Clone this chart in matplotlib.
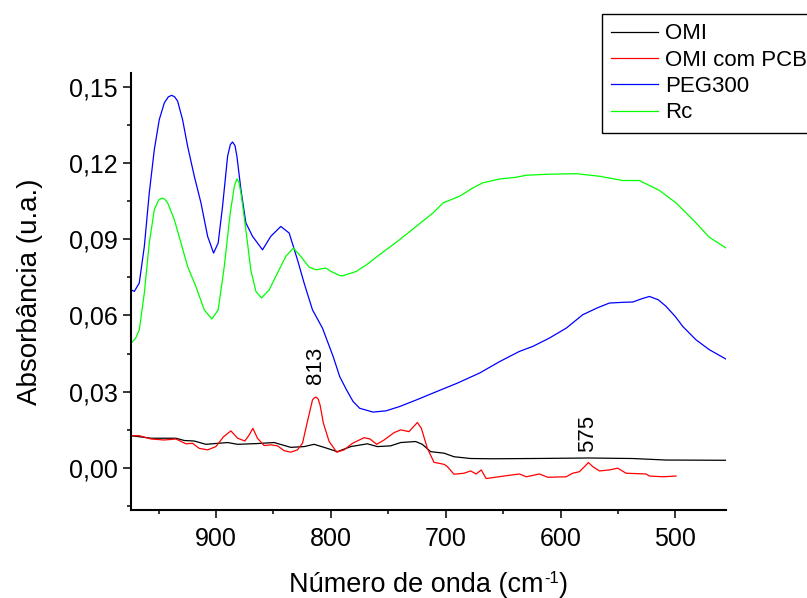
import matplotlib
matplotlib.use("Agg")
import matplotlib.pyplot as plt
from matplotlib.ticker import MultipleLocator, FuncFormatter

plt.rcParams['font.family'] = ['Liberation Sans', 'DejaVu Sans']

# ---- data ----
peg_x = [974, 971.1, 966.8, 962.4, 958.1, 953.7, 949.4, 945, 941.5, 938.6, 936, 933.4, 929.1, 924.7, 918.9,
         913.1, 907.3, 902.1, 898.1, 894.3, 889.9, 887.5, 885.6, 883.5, 881.8, 878.3, 874, 868.2, 859.5,
         852.3, 843.6, 836.3, 829.1, 823.3, 816, 807.3, 798, 792.3, 786.4, 780.7, 774.9, 763.3,
         752, 740.1, 725, 711.1, 690, 670.5, 653.1, 636, 624.2, 609.7, 595.1, 580.7, 568,
         557.5, 545, 537.2, 530, 522.7, 515, 508.2, 500, 493.7, 482.1, 470.5, 456]
peg_y = [0.0701, 0.0695, 0.0728, 0.0872, 0.1083, 0.1254, 0.1372, 0.1438, 0.1462, 0.1468, 0.1462, 0.1445, 0.1372,
         0.1267, 0.1149, 0.1044, 0.0912, 0.0846, 0.0886, 0.1030, 0.1228, 0.1274, 0.1284, 0.1270, 0.1228, 0.1096,
         0.0965, 0.0912, 0.0859, 0.0912, 0.0951, 0.0925, 0.0820, 0.0728, 0.0622, 0.0550, 0.0438,
         0.0359, 0.0307, 0.0261, 0.0234, 0.0219, 0.0224, 0.0241, 0.0268, 0.0294, 0.0333, 0.0373,
         0.0418, 0.0458, 0.0478, 0.0511, 0.0550, 0.0603, 0.0630, 0.0649, 0.0652, 0.0653, 0.0665,
         0.0675, 0.0662, 0.0636, 0.0595, 0.0557, 0.0504, 0.0465, 0.0428]

rc_x = [974, 970, 966.8, 962.4, 958.1, 953.7, 950, 947, 944.5, 942.1, 936.3, 930.5, 924.7, 917.5, 910.2,
        903.6, 898.1, 892.8, 887.6, 884, 881.8, 880, 878.3, 874, 869.7, 865.3, 860.4, 853.7, 846.5,
        839.2, 832.6, 826.2, 819, 813.1, 804.4, 800.1, 792, 789.4, 777.7, 769, 757.5, 740.1,
        728.5, 711.1, 702.3, 688, 676.3, 667.7, 653.1, 638.6, 629.9, 610, 586.4, 566.2, 545.9,
        531.4, 514, 499.5, 482.1, 470.7, 456]
rc_y = [0.0491, 0.0510, 0.0543, 0.0688, 0.0886, 0.1017, 0.1055, 0.1063, 0.1058, 0.1044, 0.0978, 0.0886, 0.0793,
        0.0714, 0.0622, 0.0586, 0.0622, 0.0793, 0.1004, 0.1110, 0.1139, 0.1125, 0.1083, 0.0938, 0.0780, 0.0695,
        0.0669, 0.0701, 0.0767, 0.0833, 0.0866, 0.0833, 0.0791, 0.0780, 0.0787, 0.0774, 0.0757,
        0.0757, 0.0774, 0.0800, 0.0840, 0.0899, 0.0941, 0.1004, 0.1044, 0.1070, 0.1103, 0.1123,
        0.1138, 0.1145, 0.1153, 0.1157, 0.1159, 0.1149, 0.1132, 0.1132, 0.1093, 0.1044, 0.0965,
        0.0909, 0.0866]

omi_x = [974, 956.6, 934.9, 927.6, 918.9, 908.8, 889.9, 881.2, 863.9, 849.4, 834.9, 823.3,
         814.6, 805.9, 794.3, 782.7, 768.2, 759.5, 747.9, 739.2, 726.2, 720.4, 713.1, 701.4,
         692.8, 678.3, 660, 624.2, 574.9, 537.2, 508.2, 456]
omi_y = [0.0126, 0.0116, 0.0116, 0.0107, 0.0105, 0.0092, 0.0099, 0.0092, 0.0095, 0.0099, 0.0080,
         0.0083, 0.0092, 0.0080, 0.0063, 0.0083, 0.0094, 0.0083, 0.0086, 0.0099, 0.0103, 0.0092,
         0.0063, 0.0057, 0.0043, 0.0036, 0.0035, 0.0036, 0.0038, 0.0036, 0.0030, 0.0029]

pcb_x = [974, 966.8, 956.6, 945, 934.9, 926.2, 920.4, 914.6, 907.3, 900.1, 893.4, 887, 881.2,
         874.9, 871.1, 867.9, 863.9, 858.1, 852.3, 846.5, 840.7, 834.9, 829.1, 824.7, 820.4,
         816, 814.2, 812.8, 811, 809.4, 806.5, 801.5, 794.9, 788.5, 781.2, 771.1, 765.9, 760.1, 753.7,
         745, 739.2, 732, 724.7, 721.2, 716, 710.2, 701.4, 698.6, 692.8, 684.1, 678.3, 673.5,
         669.1, 664.8, 644.4, 635.8, 629.9, 618.4, 611.2, 595.1, 589.5, 583.6, 579.2, 575.8,
         572, 566.2, 557.5, 550.3, 543, 525.6, 522.7, 511.1, 499.5]
pcb_y = [0.0126, 0.0126, 0.0113, 0.0109, 0.0113, 0.0094, 0.0096, 0.0076, 0.0070, 0.0083, 0.0122,
         0.0145, 0.0116, 0.0105, 0.0129, 0.0155, 0.0116, 0.0087, 0.0090, 0.0086, 0.0067, 0.0061,
         0.0070, 0.0096, 0.0182, 0.0267, 0.0276, 0.0278, 0.0270, 0.0247, 0.0175, 0.0103, 0.0061, 0.0070, 0.0096,
         0.0118, 0.0113, 0.0092, 0.0109, 0.0138, 0.0149, 0.0142, 0.0178, 0.0155, 0.0076, 0.0021,
         0.0013, 0.0004, -0.0026, -0.0022, -0.0013, -0.0025, -0.0009, -0.0043, -0.0030, -0.0025,
         -0.0036, -0.0025, -0.0038, -0.0036, -0.0022, -0.0016, 0.0004, 0.0020, 0.0004, -0.0013,
         -0.0009, -0.0002, -0.0022, -0.0025, -0.0033, -0.0036, -0.0033]

series_labels = ['OMI', 'OMI com PCB', 'PEG300', 'Rc']
peak_labels = ['813', '575']
peak_pos = [(813.6, 0.0405), (576.3, 0.0133)]

# ---- figure ----
fig = plt.figure(figsize=(8.07, 5.98), dpi=100)
ax = fig.add_axes([131 / 807, 1 - 510 / 598, (726 - 131) / 807, (510 - 73) / 598])

ax.plot(omi_x, omi_y, color='black', lw=0.9, label=series_labels[0])
ax.plot(pcb_x, pcb_y, color='#ff0000', lw=0.9, label=series_labels[1])
ax.plot(peg_x, peg_y, color='#0000ff', lw=0.9, label=series_labels[2])
ax.plot(rc_x, rc_y, color='#00ff00', lw=0.9, label=series_labels[3])

for t, (px, py) in zip(peak_labels, peak_pos):
    ax.text(px, py, t, rotation=90, ha='center', va='center', fontsize=16)

ax.set_xlim(974, 456)
ax.set_ylim(-0.0167, 0.1556)

ax.xaxis.set_major_locator(MultipleLocator(100))
ax.xaxis.set_minor_locator(MultipleLocator(50))
ax.yaxis.set_major_locator(MultipleLocator(0.03))
ax.yaxis.set_minor_locator(MultipleLocator(0.015))
ax.yaxis.set_major_formatter(FuncFormatter(lambda v, p: f"{v:.2f}".replace('.', ',').replace('-0,00', '0,00')))

for s in ['top', 'right']:
    ax.spines[s].set_visible(False)
for s in ['left', 'bottom']:
    ax.spines[s].set_linewidth(1.5)

ax.tick_params(which='major', direction='out', length=5.5, width=1.1, labelsize=18, pad=4)
ax.tick_params(which='minor', direction='out', length=3, width=1.1)
ax.tick_params(axis='x', which='major', pad=7)

ax.set_ylabel('Absorbância (u.a.)', fontsize=20, labelpad=19)

# x label built from pieces so the superscript uses a plain hyphen
fig.canvas.draw()
r = fig.canvas.get_renderer()
W, H = fig.bbox.width, fig.bbox.height
yb = 1 - 592 / 598
parts = [("Número de onda (cm", 19.5, 0), ("-1", 12, 9), (")", 19.5, 0)]
texts = []
for s, fs, dy in parts:
    texts.append(fig.text(0, yb + dy / H, s, fontsize=fs, va='baseline', ha='left'))
widths = [t.get_window_extent(r).width for t in texts]
total = sum(widths)
cx = (131 + 726) / 2
x = cx - total / 2
for t, w in zip(texts, widths):
    t.set_x(x / W)
    x += w

leg = fig.legend(loc='upper left', bbox_to_anchor=(602 / 807, 1 - 14 / 598), fontsize=16,
                 frameon=True, fancybox=False, edgecolor='black', framealpha=1,
                 handlelength=2.1, handletextpad=0.32, borderpad=0.42, labelspacing=0.24,
                 borderaxespad=0)
leg.get_frame().set_linewidth(1.0)

fig.savefig('out.png', dpi=100)
